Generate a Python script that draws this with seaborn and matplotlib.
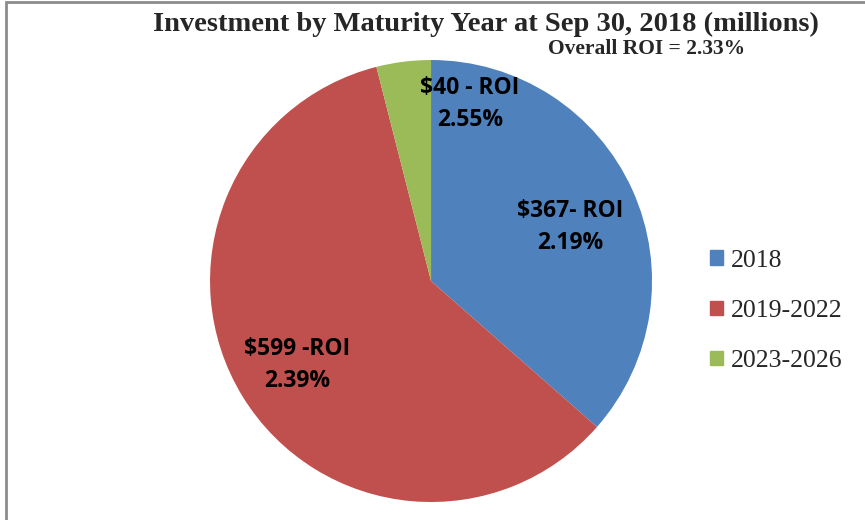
import matplotlib
matplotlib.use("Agg")
import matplotlib.pyplot as plt
import matplotlib.patches as mpatches
import seaborn as sns

# --------------------------------------------------------------------------- #
# Data
# --------------------------------------------------------------------------- #
maturity_years = ["2018", "2019-2022", "2023-2026"]
amounts = [367, 599, 40]
slice_labels = ["$367- ROI\n2.19%", "$599 -ROI\n2.39%", "$40 - ROI\n2.55%"]
colors = ["#4F81BD", "#C0504D", "#9BBB59"]

title = "Investment by Maturity Year at Sep 30, 2018 (millions)"
subtitle = "Overall ROI = 2.33%"

sns.set_theme(style="white")
plt.rcParams["font.family"] = ["Open Sans", "DejaVu Sans"]

fig = plt.figure(figsize=(8.65, 5.2), dpi=100)

# chart border (the picture is cropped: only top and left edges show)
fig.patches.append(mpatches.Rectangle((6 / 865, -0.1), 1.2, 1.1 - 2 / 520,
                                      transform=fig.transFigure, fill=False,
                                      edgecolor="#8C8C8C", linewidth=2))

ax = fig.add_axes([0.2428, 0.0346, 0.511, 0.850])
wedges, _ = ax.pie(amounts, colors=colors, startangle=90, counterclock=False,
                   radius=1, wedgeprops=dict(linewidth=0))
ax.set_xlim(-1, 1)
ax.set_ylim(-1, 1)

# label positions (pie data coords), as laid out in the original
label_pos = [(0.629, 0.243), (-0.606, -0.38), (0.176, 0.80)]
for txt, (x, y) in zip(slice_labels, label_pos):
    ax.text(x, y, txt, ha="center", va="center", fontsize=16.5,
            fontweight="bold", color="black", linespacing=1.43)

fig.text(486 / 865, 1 - 24 / 520, title, ha="center", va="center",
         fontsize=20.5, fontweight="bold", family=["Liberation Serif"])
fig.text(647 / 865, 1 - 49 / 520, subtitle, ha="center", va="center",
         fontsize=15.5, fontweight="bold", family=["Liberation Serif"])

handles = [mpatches.Patch(color=c, label=l) for c, l in zip(colors, maturity_years)]
fig.legend(handles=handles, loc="center left", bbox_to_anchor=(710 / 865, 1 - 311 / 520),
           frameon=False, prop=dict(family="Liberation Serif", size=18.5),
           borderpad=0, borderaxespad=0,
           handlelength=0.5, handleheight=0.5, handletextpad=0.33, labelspacing=1.1)

fig.savefig("out.png", dpi=100)
